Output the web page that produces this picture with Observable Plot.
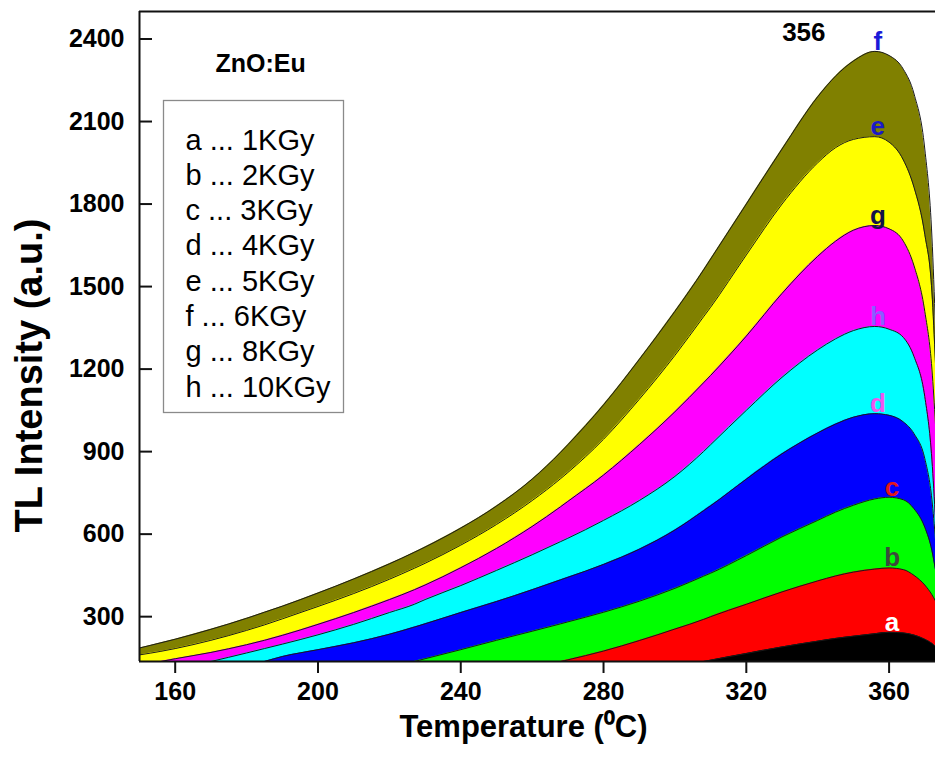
<!DOCTYPE html>
<html>
<head>
<meta charset="utf-8">
<script src="https://cdn.jsdelivr.net/npm/d3@7"></script>
<script src="https://cdn.jsdelivr.net/npm/@observablehq/plot@0.6"></script>
<style>
  html, body { margin: 0; padding: 0; background: #fff; overflow: hidden; }
</style>
</head>
<body>
<div id="chart"></div>
<script>
// Glow-curve sampling temperatures (°C)
const temps = [150,156,160,170,180,185,190,200,210,220,227,230,240,250,260,268,270,280,290,300,308,310,320,330,340,345,350,356,360,364,367,370,372,373];

// TL intensity (a.u.) of each dose curve at the temperatures above
const curveA = [null,null,null,null,null,null,null,null,null,null,null,null,null,null,null,null,null,null,null,null,137,142,166,190,211,221,229,238,243,241,233,218,203,192];
const curveB = [null,null,null,null,null,null,null,null,null,null,null,null,null,null,null,137,143,175,213,255,290,300,345,390,430,448,462,473,477,471,450,415,380,357];
const curveC = [null,null,null,null,null,null,null,null,null,null,137,147,180,214,247,274,281,316,356,403,447,458,522,590,650,680,705,728,734,725,692,625,540,470];
const curveD = [null,null,null,null,null,137,155,180,205,236,262,274,315,355,398,434,443,490,545,615,685,703,800,892,968,1000,1025,1038,1032,1008,965,875,725,580];
const curveE = [161,174,184,214,250,270,292,337,384,436,476,494,560,635,722,802,824,945,1090,1250,1390,1425,1615,1800,1950,2005,2035,2045,2025,1960,1860,1690,1480,1220];
const curveF = [186,205,218,254,294,316,338,386,437,492,534,553,622,702,800,898,925,1070,1235,1410,1560,1600,1800,2000,2190,2265,2320,2355,2340,2290,2200,2000,1680,1350];
const curveG = [null,137,147,170,198,214,232,272,315,362,398,415,478,548,628,700,719,815,925,1045,1150,1177,1320,1475,1610,1665,1705,1722,1710,1665,1575,1410,1200,1000];
const curveH = [null,null,null,137,168,184,200,234,272,315,345,362,413,468,525,573,585,650,722,810,900,925,1050,1170,1270,1310,1340,1355,1345,1315,1245,1100,870,650];

// Series keys, doses and colours
const keys = ["a","b","c","d","e","f","g","h"];
const doses = [1,2,3,4,5,6,8,10];
const fills = ["#000000","#ff0000","#00ff00","#0000ff","#ffff00","#808000","#ff00ff","#00ffff"];
const labelColors = ["#ffffff","#3c4a3c","#e01818","#ee55ee","#1a1ac8","#1a1ad8","#12124a","#8a5cff"];
const drawOrder = ["f","e","g","h","d","c","b","a"];

// Axes
const xDomain = [150, 373];
const yDomain = [137, 2500];
const xTicks = [160, 200, 240, 280, 320, 360];
const yTicks = [300, 600, 900, 1200, 1500, 1800, 2100, 2400];

const sampleTitle = "ZnO:Eu";
const xTitle = "Temperature (\u2070C)";
const yTitle = "TL Intensity (a.u.)";

const curves = {a: curveA, b: curveB, c: curveC, d: curveD, e: curveE, f: curveF, g: curveG, h: curveH};

const rows = keys.flatMap(k =>
  temps.map((T, i) => ({key: k, T, I: curves[k][i]})).filter(d => d.I != null)
);

// Peak of each curve, where its letter sits
const peaks = keys.map((k, i) => {
  const pts = rows.filter(d => d.key === k);
  const top = pts.reduce((m, d) => (d.I > m.I ? d : m), pts[0]);
  return {key: k, T: top.T, I: top.I, color: labelColors[i]};
});
const peakF = peaks.find(p => p.key === "f");

const legendText = keys.map((k, i) => `${k} ... ${doses[i]}KGy`).join("\n");
const font = "'Liberation Sans', Arial, Helvetica, sans-serif";

const chart = Plot.plot({
  width: 935,
  height: 759,
  marginLeft: 139,
  marginRight: 0,
  marginTop: 11,
  marginBottom: 98,
  x: {domain: xDomain},
  y: {domain: yDomain},
  color: {type: "identity"},
  style: {fontFamily: font, background: "#fff", color: "#000", overflow: "visible"},
  marks: [
    ...drawOrder.flatMap(k => {
      const pts = rows.filter(d => d.key === k);
      return [
        Plot.areaY(pts, {x: "T", y: "I", y1: yDomain[0], fill: fills[keys.indexOf(k)], curve: "monotone-x"}),
        Plot.lineY(pts, {x: "T", y: "I", stroke: "#1a1a1a", strokeWidth: 1, curve: "monotone-x"})
      ];
    }),
    // plot border (left, top, bottom)
    Plot.ruleX([xDomain[0]], {stroke: "#111", strokeWidth: 2}),
    Plot.ruleY(yDomain, {stroke: "#111", strokeWidth: 2}),
    // y axis: inward ticks and bold labels
    Plot.axisY({ticks: yTicks, tickSize: 13, dx: 13, fill: "none", stroke: "#111", strokeWidth: 2, label: null}),
    Plot.axisY({ticks: yTicks, tickSize: 0, tickPadding: 15, tickFormat: "d", fontSize: 25, fontWeight: "bold", label: null}),
    // x axis: outward ticks and bold labels
    Plot.axisX({ticks: xTicks, tickSize: 12, tickPadding: 9, tickFormat: "d", fontSize: 25, fontWeight: "bold", stroke: "#111", strokeWidth: 2, label: null}),
    // axis titles
    Plot.text([yTitle], {text: d => d, frameAnchor: "left", rotate: -90, dx: -110, dy: 39,
      fontSize: 38, fontWeight: "bold", textAnchor: "middle", lineAnchor: "middle"}),
    Plot.text([xTitle], {text: d => d, frameAnchor: "bottom", dx: -14, dy: 66,
      fontSize: 31, fontWeight: "bold", textAnchor: "middle", lineAnchor: "middle"}),
    // sample name
    Plot.text([sampleTitle], {text: d => d, frameAnchor: "top-left", dx: 76, dy: 52,
      fontSize: 25, fontWeight: "bold", textAnchor: "start", lineAnchor: "middle"}),
    // legend box and entries
    Plot.frame({insetLeft: 24, insetTop: 89, insetRight: 592, insetBottom: 249, stroke: "#8a8a8a", strokeWidth: 1.3}),
    Plot.text([legendText], {text: d => d, frameAnchor: "top-left", dx: 46, dy: 113,
      fontSize: 29, lineHeight: 1.217, textAnchor: "start", lineAnchor: "top"}),
    // curve letters at their peaks
    Plot.text(peaks, {x: "T", y: "I", text: "key", fill: "color", dx: 3, dy: -10,
      fontSize: 26, fontWeight: "bold", lineAnchor: "middle"}),
    // peak temperature of the highest curve
    Plot.text([peakF], {x: "T", y: "I", text: d => String(d.T), dx: -71, dy: -19,
      fontSize: 26, fontWeight: "bold", lineAnchor: "middle"})
  ]
});

document.getElementById("chart").appendChild(chart);
</script>
</body>
</html>
